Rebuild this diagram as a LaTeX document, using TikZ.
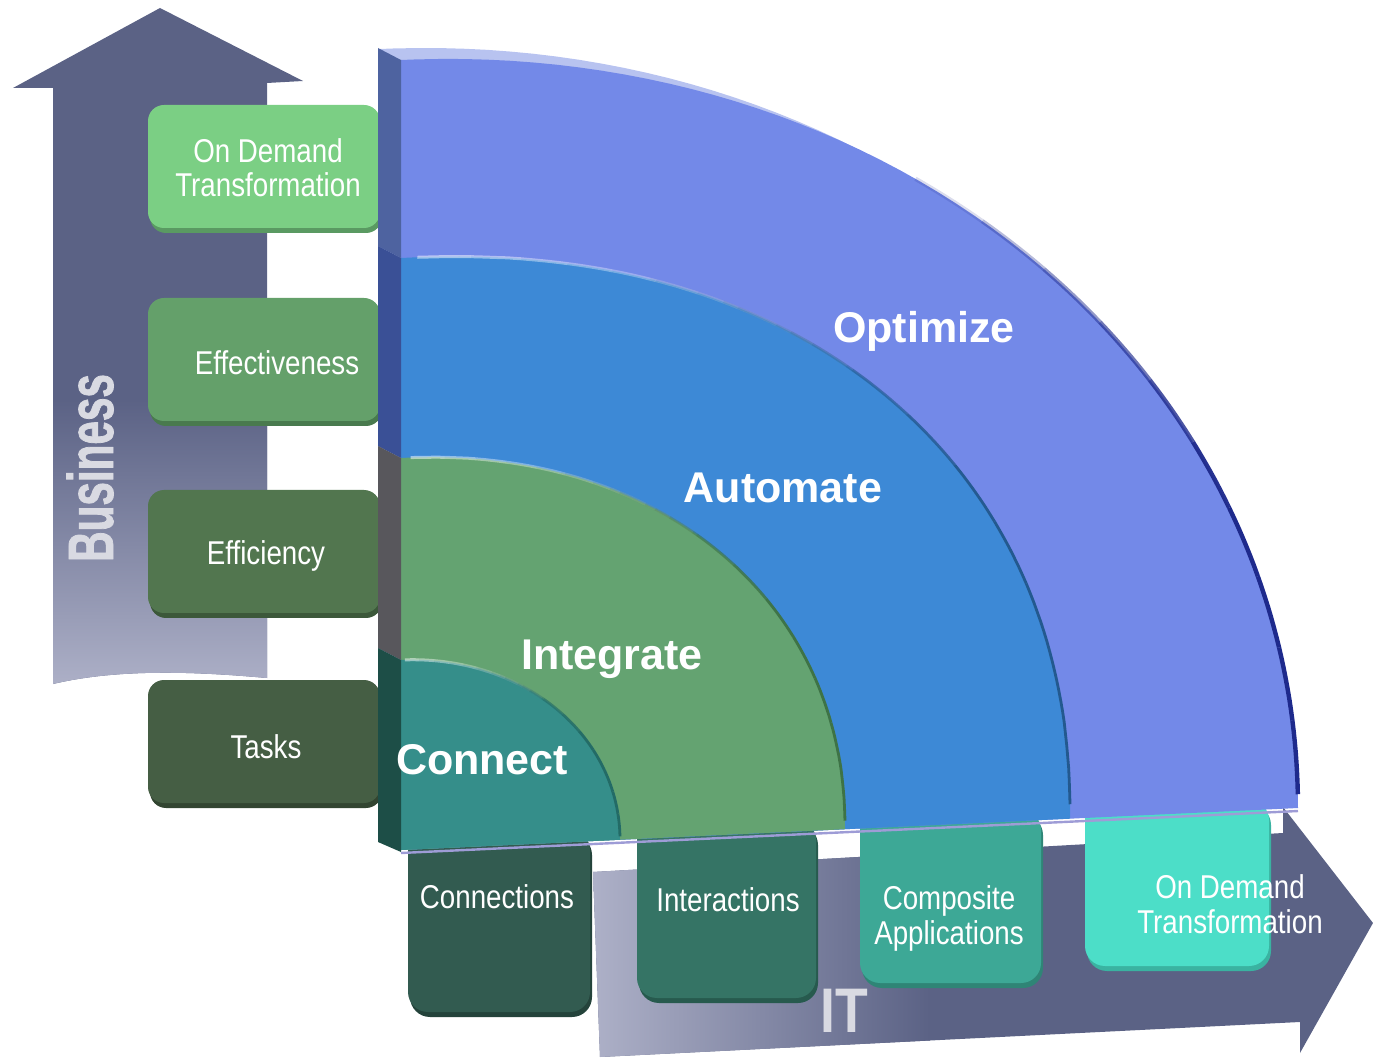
\documentclass[tikz,border=0pt]{standalone}
\usepackage{fontspec}
\setmainfont{Liberation Sans}
\newfontfamily\narrowfont[FakeStretch=0.84]{Liberation Sans}
\newfontfamily\bizfont[FakeStretch=0.66,FakeBold=1.2]{Liberation Sans}
\newfontfamily\itfont[FakeStretch=0.85]{Liberation Sans}
\usetikzlibrary{shadows}
\definecolor{arrowdark}{HTML}{5B6285}
\definecolor{arrowlight}{HTML}{AEB1C8}
\definecolor{arrowtext}{HTML}{D9DAE2}
\definecolor{optface}{HTML}{7389E8}
\definecolor{autface}{HTML}{3D89D6}
\definecolor{intface}{HTML}{64A371}
\definecolor{conface}{HTML}{358E8A}
\definecolor{optside}{HTML}{4E63A0}
\definecolor{autside}{HTML}{3A5096}
\definecolor{intside}{HTML}{58575C}
\definecolor{conside}{HTML}{1D4E47}
\definecolor{opttop}{HTML}{B8C3F0}
\definecolor{optedge}{HTML}{1E2A8C}
\definecolor{autedge}{HTML}{23598F}
\definecolor{intedge}{HTML}{3E7346}
\definecolor{conedge}{HTML}{236B66}
\definecolor{underline}{HTML}{9E9CD6}
\definecolor{lbA}{HTML}{7BCF84}\definecolor{lbAsh}{HTML}{5A9A62}
\definecolor{lbB}{HTML}{64A06A}\definecolor{lbBsh}{HTML}{497A4E}
\definecolor{lbC}{HTML}{52764F}\definecolor{lbCsh}{HTML}{3C583A}
\definecolor{lbD}{HTML}{455E44}\definecolor{lbDsh}{HTML}{324531}
\definecolor{bbA}{HTML}{325B50}\definecolor{bbAsh}{HTML}{24433B}
\definecolor{bbB}{HTML}{357465}\definecolor{bbBsh}{HTML}{275A4E}
\definecolor{bbC}{HTML}{3DA896}\definecolor{bbCsh}{HTML}{2F8576}
\definecolor{bbD}{HTML}{4CDEC8}\definecolor{bbDsh}{HTML}{3AB3A1}
\newcommand\ringsector[4]{\fill[#4] (0,0) -- (#1,0) -- plot[domain=1:89,samples=60] ({#1*cos(\x)^#3},{-#2*sin(\x)^#3}) -- (0,-#2) -- cycle;}
% dark edge along the right part, fading out towards the top
\newcommand\ringshade[6]{%
  \foreach \k in {0,...,9}{%
    \pgfmathsetmacro\lo{max(1,#4+\k*(#5-#4)/10)}%
    \pgfmathsetmacro\hi{#4+(\k+1)*(#5-#4)/10}%
    \pgfmathsetmacro\op{min(1,1.6-1.6*\k/10)}%
    \draw[#6, opacity=\op] plot[domain=\lo:\hi,samples=8] ({#1*cos(\x)^#3},{-#2*sin(\x)^#3});}}
% light highlight along the top part, fading out towards the right
\newcommand\ringlight[6]{%
  \foreach \k in {0,...,9}{%
    \pgfmathsetmacro\lo{#5-(\k+1)*(#5-#4)/10}%
    \pgfmathsetmacro\hi{min(89,#5-\k*(#5-#4)/10)}%
    \pgfmathsetmacro\op{0.5*(1-\k/10)}%
    \draw[#6, opacity=\op] plot[domain=\lo:\hi,samples=8] ({#1*cos(\x)^#3},{-#2*sin(\x)^#3});}}
\begin{document}
\begin{tikzpicture}[x=0.5pt,y=-0.5pt,
  lbl/.style={font=\narrowfont\fontsize{16.5}{17}\selectfont, text=white, inner sep=0pt},
  biglbl/.style={font=\fontsize{21.5}{24}\selectfont\bfseries, text=white, inner sep=0pt},
  axislbl/.style={text=arrowtext, inner sep=0pt},
  leftbox/.style={rectangle, rounded corners=8pt, minimum width=116pt, minimum height=61.5pt, inner sep=0pt},
  botbox/.style={rectangle, rounded corners=10pt, inner sep=0pt},
  boxshadow/.style={drop shadow={shadow xshift=1pt, shadow yshift=-2.5pt, fill=#1, opacity=1}},
]
\useasboundingbox (0,0) rectangle (1373,1059);

% Business arrow
\path[fill=arrowdark] (160,8) -- (303,81) -- (267,83) -- (267,678)
  .. controls (200,672) and (120,668) .. (53,684) -- (53,88) -- (13,88) -- cycle;
\begin{scope}
  \clip (160,8) -- (303,81) -- (267,83) -- (267,678)
    .. controls (200,672) and (120,668) .. (53,684) -- (53,88) -- (13,88) -- cycle;
  \shade[top color=arrowdark, bottom color=arrowlight] (0,400) rectangle (320,690);
\end{scope}
\node[axislbl, font=\bizfont\bfseries\fontsize{32}{36}\selectfont, rotate=90, anchor=base] (biz) at (113,468) {Business};

% IT arrow
\path[fill=arrowdark] (593,872) -- (1283,833) -- (1283,807) -- (1373,923) -- (1300,1053)
  -- (1300,1022) -- (600,1057) -- cycle;
\begin{scope}
  \clip (593,872) -- (1283,833) -- (1283,807) -- (1373,923) -- (1300,1053)
    -- (1300,1022) -- (600,1057) -- cycle;
  \shade[left color=arrowlight, right color=arrowdark] (590,800) rectangle (930,1059);
\end{scope}
\node[axislbl, font=\itfont\bfseries\fontsize{31.5}{34}\selectfont, anchor=base] (it) at (844,1032) {IT};

% left boxes
\node[leftbox, fill=lbA, boxshadow=lbAsh] (b1) at (264,166.5) {};
\node[leftbox, fill=lbB, boxshadow=lbBsh] (b2) at (264,359.5) {};
\node[leftbox, fill=lbC, boxshadow=lbCsh] (b3) at (264,551.5) {};
\node[leftbox, fill=lbD, boxshadow=lbDsh] (b4) at (264,741.5) {};

% bottom boxes
\node[botbox, fill=bbA, boxshadow=bbAsh, minimum width=91pt, minimum height=91pt] (c1) at (499,921) {};
\node[botbox, fill=bbB, boxshadow=bbBsh, minimum width=89.5pt, minimum height=89pt] (c2) at (726.5,909) {};
\node[botbox, fill=bbC, boxshadow=bbCsh, minimum width=90.5pt, minimum height=86.5pt] (c3) at (950.5,896.5) {};
\node[botbox, fill=bbD, boxshadow=bbDsh, minimum width=92pt, minimum height=83pt] (c4) at (1177,883) {};

% rings
\begin{scope}[shift={(401,850)}, yslant=0.0468]
  \draw[underline, line width=1.2pt] (0,3) -- (897,3);
  \begin{scope}[shift={(-23,-12)}]
    \ringsector{897}{790}{1}{opttop}
  \end{scope}
  \ringsector{897}{790}{1}{optface}
  \ringshade{897}{790}{1}{1}{55}{draw=optedge, line width=2.2pt}
  \ringsector{669}{592}{0.92}{autface}
  \ringshade{669}{592}{0.92}{1}{70}{draw=autedge, line width=1.4pt}
  \ringlight{669}{592}{0.92}{50}{89}{draw=white, line width=1.5pt}
  \ringsector{444}{392}{0.95}{intface}
  \ringshade{444}{392}{0.95}{1}{70}{draw=intedge, line width=1.4pt}
  \ringlight{444}{392}{0.95}{50}{89}{draw=white, line width=1.5pt}
  \ringsector{219}{190}{1}{conface}
  \ringshade{219}{190}{1}{1}{70}{draw=conedge, line width=1.4pt}
  \ringlight{219}{190}{1}{50}{89}{draw=white, line width=1.5pt}
\end{scope}

% side bar of the slab
\fill[optside] (378,48) -- (401,60) -- (401,258) -- (378,246) -- cycle;
\fill[autside] (378,246) -- (401,258) -- (401,458) -- (378,446) -- cycle;
\fill[intside] (378,446) -- (401,458) -- (401,660) -- (378,648) -- cycle;
\fill[conside] (378,648) -- (401,660) -- (401,852) -- (378,842) -- cycle;

% ring labels
\node[biglbl, anchor=base] (opt) at (924,343) {Optimize};
\node[biglbl, anchor=base] (aut) at (783,503) {Automate};
\node[biglbl, anchor=base] (int) at (612,669) {Integrate};
\node[biglbl, anchor=base] (con) at (482,774) {Connect};

% box labels
\node[lbl, anchor=base] (t1) at (268,197) {\begin{tabular}[b]{@{}c@{}}On Demand\\Transformation\end{tabular}};
\node[lbl, anchor=base] (t2) at (277,375) {Effectiveness};
\node[lbl, anchor=base] (t3) at (266,565) {Efficiency};
\node[lbl, anchor=base] (t4) at (266,758) {Tasks};
\node[lbl, anchor=base] (u1) at (497,908) {Connections};
\node[lbl, anchor=base] (u2) at (728,911) {Interactions};
\node[lbl, anchor=base] (u3) at (949,944) {\begin{tabular}[b]{@{}c@{}}Composite\\Applications\end{tabular}};
\node[lbl, anchor=base] (u4) at (1230,933) {\begin{tabular}[b]{@{}c@{}}On Demand\\Transformation\end{tabular}};
\end{tikzpicture}
\end{document}
